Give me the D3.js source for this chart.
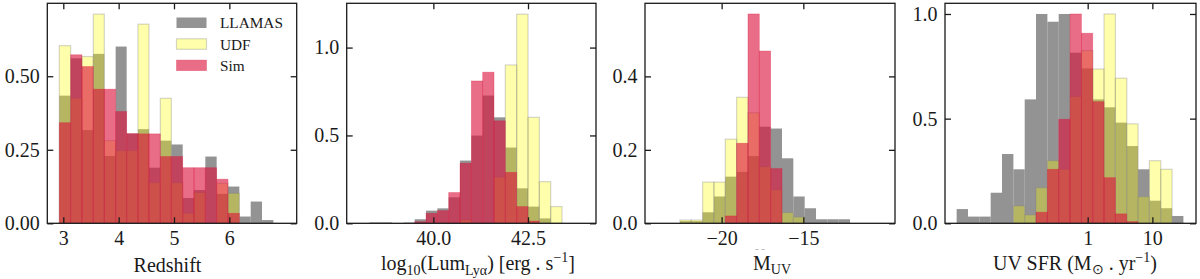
<!DOCTYPE html>
<html><head><meta charset="utf-8">
<script src="https://cdn.jsdelivr.net/npm/d3@7"></script>
<style>
html,body{margin:0;padding:0;background:#fff;}
svg{display:block;font-family:"Liberation Serif","Times New Roman",serif;}
</style></head><body>
<svg id="chart" width="1200" height="279"></svg>
<script>
// ---------------- data ----------------
const seriesNames = ["LLAMAS", "UDF", "Sim"];

// Panel 1: Redshift
const zEdges  = [2.928,3.133,3.337,3.542,3.741,3.946,4.145,4.349,4.548,4.753,4.952,5.157,5.361,5.566,5.771,5.976,6.181,6.386,6.590,6.795];
const zLlamas = [0.434,0.561,0.317,0.576,0.229,0.601,0.305,0.320,0.189,0.281,0.268,0.086,0.113,0.227,0.100,0.125,0.023,0.074,0.011];
const zUdf    = [0.604,0.425,0.567,0.711,0.281,0.247,0.247,0.677,0.138,0.425,0.138,0.034,0.104,0,0.136,0.102,0,0,0];
const zSim    = [0.342,0.573,0.533,0.456,0.456,0.380,0.305,0.304,0.304,0.227,0.227,0.189,0.189,0.189,0.150,0.034,0,0,0];
const zXTicks = [3,4,5,6];
const zYTicks = [0,0.25,0.5];

// Panel 2: log10 Lyα luminosity
const lumEdges  = [38.310,38.609,38.908,39.208,39.507,39.806,40.106,40.405,40.704,41.004,41.303,41.602,41.901,42.201,42.500,42.799,43.099,43.398];
const lumLlamas = [0.005,0.005,0,0.004,0.023,0.072,0.085,0.148,0.357,0.499,0.727,0.603,0.431,0.199,0.095,0.028,0];
const lumUdf    = [0,0,0,0,0,0,0,0,0.019,0,0,0.262,0.901,1.190,0.603,0.237,0.095];
const lumSim    = [0,0,0,0,0.009,0.057,0.072,0.175,0.342,0.810,0.860,0.583,0.290,0.095,0.013,0,0];
const lumXTicks = [40.0,42.5];
const lumYTicks = [0,0.5,1.0];

// Panel 3: M_UV
const muvEdges  = [-22.551,-21.857,-21.163,-20.469,-19.776,-19.082,-18.388,-17.694,-17.0,-16.306,-15.612,-14.918,-14.224,-13.531,-12.837,-12.143];
const muvLlamas = [0.006,0.006,0.030,0.073,0.127,0.140,0.183,0.263,0.258,0.177,0.073,0.041,0.011,0.011,0.011];
const muvUdf    = [0.009,0.009,0.112,0.112,0.229,0.343,0.301,0.154,0.091,0.029,0.017,0,0,0,0];
const muvSim    = [0,0,0,0,0.020,0.218,0.570,0.469,0.149,0,0,0,0,0,0];
const muvXTicks = [-20,-15];
const muvYTicks = [0,0.2,0.4];

// Panel 4: UV SFR (log x)
const sfrEdges  = [0.00942,0.01410,0.02112,0.03162,0.04733,0.07096,0.1062,0.1589,0.2382,0.3565,0.5336,0.7998,1.197,1.791,2.681,4.018,6.012,8.995,13.49,20.18,30.2];
const sfrLlamas = [0.068,0.032,0.032,0.146,0.331,0.258,0.592,1.0,0.963,1.0,0.815,0.740,0.592,0.554,0.481,0.369,0.258,0.108,0.072,0.035];
const sfrUdf    = [0,0,0,0,0,0.083,0.040,0.170,0.299,0.258,0.605,0.825,0.737,1.0,0.693,0.475,0.127,0.299,0.258,0];
const sfrSim    = [0,0,0,0,0,0,0,0.053,0.258,0.497,1.0,0.908,0.581,0.218,0.045,0.008,0,0,0,0];
const sfrXTicks = [1,10];
const sfrYTicks = [0,0.5,1.0];

// ---------------- styles ----------------
const styles = {
  LLAMAS: {fill:"#808080", op:0.85, stroke:"none", sop:0, sw:0},
  UDF:    {fill:"#ffff00", op:0.33, stroke:"#808080", sop:0.33, sw:1.2},
  Sim:    {fill:"#dc143c", op:0.62, stroke:"#dc143c", sop:0.35, sw:0.8}
};
const INK = "#1a1a1a";
const TOP = 3.3, H = 220;

const svg = d3.select("#chart");
const defs = svg.append("defs");

const panels = [
  {id:"p1", left:47.3, width:249.4, log:false, xDomain:[2.711,7.217], yDomain:[0,0.748],
   edges:zEdges, data:[zLlamas,zUdf,zSim], xt:zXTicks, yt:zYTicks, xf:d3.format("d"), yf:d3.format(".2f")},
  {id:"p2", left:346.7, width:249.3, log:false, xDomain:[37.711,44.296], yDomain:[0,1.252],
   edges:lumEdges, data:[lumLlamas,lumUdf,lumSim], xt:lumXTicks, yt:lumYTicks, xf:d3.format(".1f"), yf:d3.format(".1f")},
  {id:"p3", left:645, width:250, log:false, xDomain:[-24.69,-9.39], yDomain:[0,0.599],
   edges:muvEdges, data:[muvLlamas,muvUdf,muvSim], xt:muvXTicks, yt:muvYTicks, xf:d3.format("d"), yf:d3.format(".1f")},
  {id:"p4", left:945, width:251, log:true, xDomain:[0.00622,47.3], yDomain:[0,1.051],
   edges:sfrEdges, data:[sfrLlamas,sfrUdf,sfrSim], xt:sfrXTicks, yt:sfrYTicks, xf:d3.format("d"), yf:d3.format(".1f")}
];

panels.forEach(p => {
  const g = svg.append("g").attr("transform", `translate(${p.left},${TOP})`);
  const x = (p.log ? d3.scaleLog() : d3.scaleLinear()).domain(p.xDomain).range([0, p.width]);
  const y = d3.scaleLinear().domain(p.yDomain).range([H, 0]);

  defs.append("clipPath").attr("id", "clip-" + p.id)
    .append("rect").attr("x", 0).attr("y", 0).attr("width", p.width).attr("height", H);

  const plot = g.append("g").attr("clip-path", `url(#clip-${p.id})`);
  seriesNames.forEach((name, si) => {
    const st = styles[name];
    const bins = p.data[si].map((v, i) => ({x0:p.edges[i], x1:p.edges[i+1], v})).filter(d => d.v > 0);
    plot.append("g").selectAll("rect").data(bins).join("rect")
      .attr("x", d => x(d.x0))
      .attr("width", d => x(d.x1) - x(d.x0))
      .attr("y", d => y(d.v))
      .attr("height", d => y(0) - y(d.v))
      .attr("fill", st.fill).attr("fill-opacity", st.op)
      .attr("stroke", st.stroke).attr("stroke-opacity", st.sop).attr("stroke-width", st.sw);
  });

  const styleAxis = sel => {
    sel.select(".domain").remove();
    sel.selectAll(".tick line").attr("stroke", INK).attr("stroke-width", 1.3);
    sel.selectAll(".tick text").attr("fill", INK).style("font-size", "20px")
      .style("font-family", '"Liberation Serif","Times New Roman",serif');
  };

  g.append("g").attr("transform", `translate(0,${H})`)
    .call(d3.axisBottom(x).tickValues(p.xt).tickFormat(p.xf).tickSize(-6).tickSizeOuter(0).tickPadding(7.5))
    .call(styleAxis);
  g.append("g")
    .call(d3.axisTop(x).tickValues(p.xt).tickFormat("").tickSize(-6).tickSizeOuter(0))
    .call(styleAxis);
  g.append("g")
    .call(d3.axisLeft(y).tickValues(p.yt).tickFormat(p.yf).tickSize(-6).tickSizeOuter(0).tickPadding(7.5))
    .call(styleAxis);
  g.append("g").attr("transform", `translate(${p.width},0)`)
    .call(d3.axisRight(y).tickValues(p.yt).tickFormat("").tickSize(-6).tickSizeOuter(0))
    .call(styleAxis);

  g.append("rect").attr("x", 0).attr("y", 0).attr("width", p.width).attr("height", H)
    .attr("fill", "none").attr("stroke", INK).attr("stroke-width", 1.3);
  p.g = g;
});

// ---------------- legend (panel 1) ----------------
const leg = svg.append("g");
seriesNames.forEach((name, i) => {
  const st = styles[name];
  const yTop = 17.5 + i * 21.3;
  leg.append("rect").attr("x", 176.5).attr("y", yTop).attr("width", 30).attr("height", 10.5)
    .attr("fill", st.fill).attr("fill-opacity", st.op)
    .attr("stroke", st.stroke).attr("stroke-opacity", st.sop).attr("stroke-width", st.sw);
  leg.append("text").attr("x", 220).attr("y", yTop + 10.8).text(name)
    .attr("fill", INK).style("font-size", "15.3px");
});

// ---------------- axis labels ----------------
const lab = (cx, base) => svg.append("text").attr("x", cx).attr("y", base)
  .attr("text-anchor", "middle").attr("fill", INK).style("font-size", "20px");

lab(167.5, 271.5).text("Redshift");

const l2 = lab(478, 270);
l2.append("tspan").text("log");
l2.append("tspan").attr("dy", 5).style("font-size", "14px").text("10");
l2.append("tspan").attr("dy", -5).text("(Lum");
l2.append("tspan").attr("dy", 5).style("font-size", "14px").text("Lyα");
l2.append("tspan").attr("dy", -5).text(") [erg . s");
l2.append("tspan").attr("dy", -8).style("font-size", "14px").text("−1");
l2.append("tspan").attr("dy", 8).text("]");

svg.append("text").attr("x", 760).attr("y", 252).attr("text-anchor", "middle")
  .attr("fill", "#aaa").style("font-size", "11px").text("‐ ‐");
const l3 = lab(772, 270);
l3.append("tspan").text("M");
l3.append("tspan").attr("dy", 4).style("font-size", "14px").text("UV");

const l4 = lab(1075, 270);
l4.append("tspan").text("UV SFR (M");
l4.append("tspan").attr("dy", 4).style("font-size", "14px").text("⊙");
l4.append("tspan").attr("dy", -4).text(" . yr");
l4.append("tspan").attr("dy", -8).style("font-size", "14px").text("−1");
l4.append("tspan").attr("dy", 8).text(")");
</script>
</body></html>
